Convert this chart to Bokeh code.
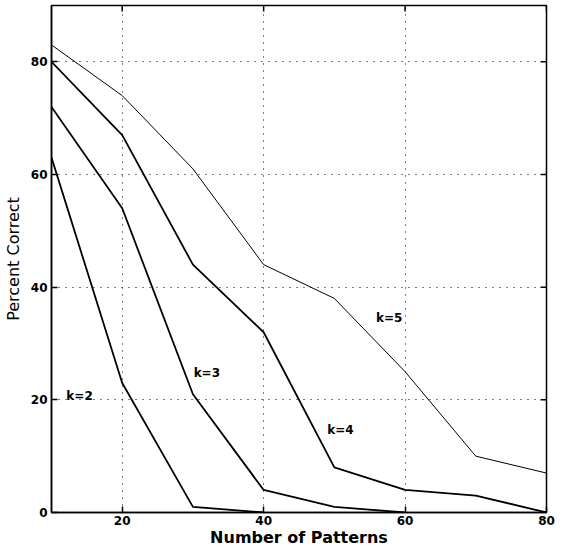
import math
from bokeh.plotting import figure
from bokeh.models import Range1d, FixedTicker, ColumnDataSource
from bokeh.core.properties import value
from bokeh.embed import file_html
from bokeh.resources import INLINE

# ---- data ----
patterns = [10, 20, 30, 40, 50, 60, 70, 80]
k5 = [83, 74, 61, 44, 38, 25, 10, 7]
k4 = [80, 67, 44, 32, 8, 4, 3, 0]
k3 = [72, 54, 21, 4, 1, 0]
k2 = [63, 23, 1, 0]
x_ticks = [20, 40, 60, 80]
y_ticks = [0, 20, 40, 60, 80]
grid_x = [20, 40, 60]
grid_y = [20, 40, 60, 80]
series_names = ["k=2", "k=3", "k=4", "k=5"]
label_x = [12.1, 30.1, 49.0, 55.9]
label_y = [20.7, 24.7, 14.6, 34.6]
x_min, x_max = 10, 80
y_min, y_max = 0, 90

FONT = "DejaVu Sans"

p = figure(width=555, height=549, output_backend="svg", toolbar_location=None,
           x_range=Range1d(x_min, x_max), y_range=Range1d(y_min, y_max),
           min_border_left=41, min_border_right=9, min_border_top=5, min_border_bottom=30)

p.outline_line_color = "black"
p.outline_line_width = 1.5
p.background_fill_color = "white"
p.border_fill_color = "white"

# grid
p.xgrid.ticker = FixedTicker(ticks=grid_x)
p.ygrid.ticker = FixedTicker(ticks=grid_y)
for g in (p.xgrid, p.ygrid):
    g.grid_line_color = "black"
    g.grid_line_dash = "1 6"
    g.grid_line_width = 1

# axes
p.xaxis.ticker = FixedTicker(ticks=x_ticks)
p.yaxis.ticker = FixedTicker(ticks=y_ticks)
p.xaxis.axis_label = "Number of Patterns"
p.yaxis.axis_label = "Percent Correct"
for ax in (p.xaxis, p.yaxis):
    ax.axis_line_color = "black"
    ax.axis_line_width = 1.5
    ax.major_tick_in = 6
    ax.major_tick_out = 0
    ax.major_tick_line_color = "black"
    ax.major_tick_line_width = 1.5
    ax.minor_tick_line_color = None
    ax.major_label_text_font = FONT
    ax.major_label_text_font_style = "bold"
    ax.major_label_text_font_size = "12px"
    ax.major_label_text_color = "black"
    ax.axis_label_text_font = FONT
    ax.axis_label_text_color = "black"
p.xaxis.axis_label_text_font_style = "bold"
p.xaxis.axis_label_text_font_size = "16px"
p.yaxis.axis_label_text_font_style = "normal"
p.yaxis.axis_label_text_font_size = "16px"
p.xaxis.major_label_standoff = 3
p.xaxis.axis_label_standoff = 0
p.yaxis.major_label_standoff = 4
p.yaxis.axis_label_standoff = 5

# inward box ticks on top and right edges
p.ray(x=[x_max] * len(y_ticks), y=y_ticks, length=6, length_units="screen",
      angle=math.pi, line_color="black", line_width=1.5)
p.ray(x=x_ticks, y=[y_max] * len(x_ticks), length=6, length_units="screen",
      angle=-math.pi / 2, line_color="black", line_width=1.5)

# lines
p.line(patterns, k5, line_color="black", line_width=1)
p.line(patterns, k4, line_color="black", line_width=1.8)
p.line(patterns[:len(k3)], k3, line_color="black", line_width=1.8)
p.line(patterns[:len(k2)], k2, line_color="black", line_width=1.8)

src = ColumnDataSource(dict(x=label_x, y=label_y, t=series_names))
p.text(x="x", y="y", text="t", source=src, text_font=value(FONT),
       text_font_style="bold", text_font_size="12px", text_color="black",
       text_baseline="middle", text_align="left")

open("out.html", "w").write(file_html(p, INLINE))
